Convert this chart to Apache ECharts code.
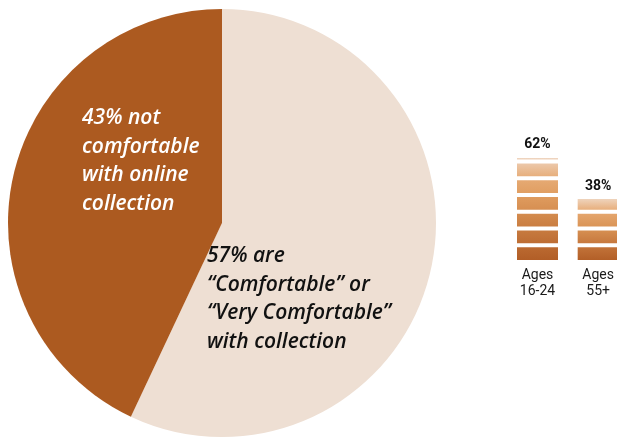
<!DOCTYPE html>
<html>
<head>
<meta charset="utf-8">
<script src="https://cdn.jsdelivr.net/npm/echarts@6/dist/echarts.min.js"></script>
<style>
  html, body { margin: 0; padding: 0; background: #ffffff; }
  #chart { width: 617px; height: 440px; }
</style>
</head>
<body>
<div id="chart"></div>
<script>
// Overall comfort with online collection (percent)
const shareNames = ['Comfortable', 'Not comfortable'];
const shareValues = [57, 43];

// Comfort by age group (percent)
const ageGroups = ['Ages\n16-24', 'Ages\n55+'];
const ageValues = [62, 38];

// Each age bar is cut into blocks of this many percentage points
const BLOCK = 9.8;

// Shade ramp along a bar, from its base (0) to its top (1)
const RAMP = [
  [0.00, [176, 92, 37]],
  [0.20, [191, 111, 54]],
  [0.40, [207, 133, 72]],
  [0.60, [223, 155, 93]],
  [0.75, [229, 165, 105]],
  [0.87, [233, 182, 141]],
  [1.00, [240, 218, 200]]
];
function rampColor(t) {
  t = Math.max(0, Math.min(1, t));
  for (let i = 1; i < RAMP.length; i++) {
    if (t <= RAMP[i][0]) {
      const [t0, c0] = RAMP[i - 1], [t1, c1] = RAMP[i];
      const f = (t - t0) / (t1 - t0);
      const c = c0.map((v, k) => Math.round(v + (c1[k] - v) * f));
      return `rgb(${c[0]},${c[1]},${c[2]})`;
    }
  }
  const c = RAMP[RAMP.length - 1][1];
  return `rgb(${c[0]},${c[1]},${c[2]})`;
}

// Stacked block series: block k of every bar
const maxBlocks = Math.max(...ageValues.map(v => Math.ceil(v / BLOCK)));
const blockSeries = [];
for (let k = 0; k < maxBlocks; k++) {
  const data = ageValues.map(v => {
    const lo = k * BLOCK;
    if (lo >= v) return '-';
    const hi = Math.min(v, lo + BLOCK);
    return {
      value: hi - lo,
      itemStyle: {
        color: new echarts.graphic.LinearGradient(0, 0, 0, 1, [
          { offset: 0, color: rampColor(hi / v) },
          { offset: 1, color: rampColor(lo / v) }
        ])
      }
    };
  });
  blockSeries.push({
    type: 'bar',
    stack: 'age',
    barWidth: 45,
    data: data,
    itemStyle: { borderColor: '#ffffff', borderWidth: 2 },
    emphasis: { disabled: true },
    silent: true
  });
}

const chart = echarts.init(document.getElementById('chart'));

const labelFont = {
  fontFamily: 'Open Sans',
  fontStyle: 'italic',
  fontWeight: 600,
  fontSize: 21,
  lineHeight: 28.5
};

chart.setOption({
  animation: false,
  backgroundColor: '#ffffff',
  grid: { left: 537.5, right: 16.5, top: 91, bottom: 178, containLabel: false },
  xAxis: {
    type: 'category',
    data: ageGroups,
    boundaryGap: false,
    axisLine: { show: false },
    axisTick: { show: false },
    splitLine: { show: false },
    axisLabel: {
      margin: 5,
      fontFamily: 'Roboto',
      fontSize: 14,
      lineHeight: 16,
      color: '#1a1a1a'
    }
  },
  yAxis: { type: 'value', min: 0, max: 100, show: false },
  series: [
    {
      type: 'pie',
      center: [222, 223],
      radius: 214,
      startAngle: 90,
      clockwise: true,
      silent: true,
      data: [
        { name: shareNames[0], value: shareValues[0], itemStyle: { color: '#EEDFD3' },
          label: { color: '#111111', formatter: p => `${p.value}% are\n“Comfortable” or\n“Very Comfortable”\nwith collection` } },
        { name: shareNames[1], value: shareValues[1], itemStyle: { color: '#AC5A20' },
          label: { color: '#ffffff', formatter: p => `${p.value}% not\ncomfortable\nwith online\ncollection` } }
      ],
      label: Object.assign({ show: true, position: 'inside', align: 'left' }, labelFont),
      labelLine: { show: false },
      labelLayout: function (params) {
        return params.dataIndex === 0
          ? { x: 207, y: 242, align: 'left', verticalAlign: 'top' }
          : { x: 82, y: 104, align: 'left', verticalAlign: 'top' };
      }
    },
    // Totals: invisible full-height bars that carry the percentage labels
    {
      type: 'bar',
      barWidth: 45,
      barGap: '-100%',
      data: ageValues,
      itemStyle: { color: 'rgba(0,0,0,0)' },
      silent: true,
      z: 1,
      label: {
        show: true,
        position: 'top',
        distance: 4,
        formatter: '{c}%',
        fontFamily: 'Roboto',
        fontWeight: 'bold',
        fontSize: 14,
        color: '#111111'
      }
    }
  ].concat(blockSeries)
});
</script>
</body>
</html>
